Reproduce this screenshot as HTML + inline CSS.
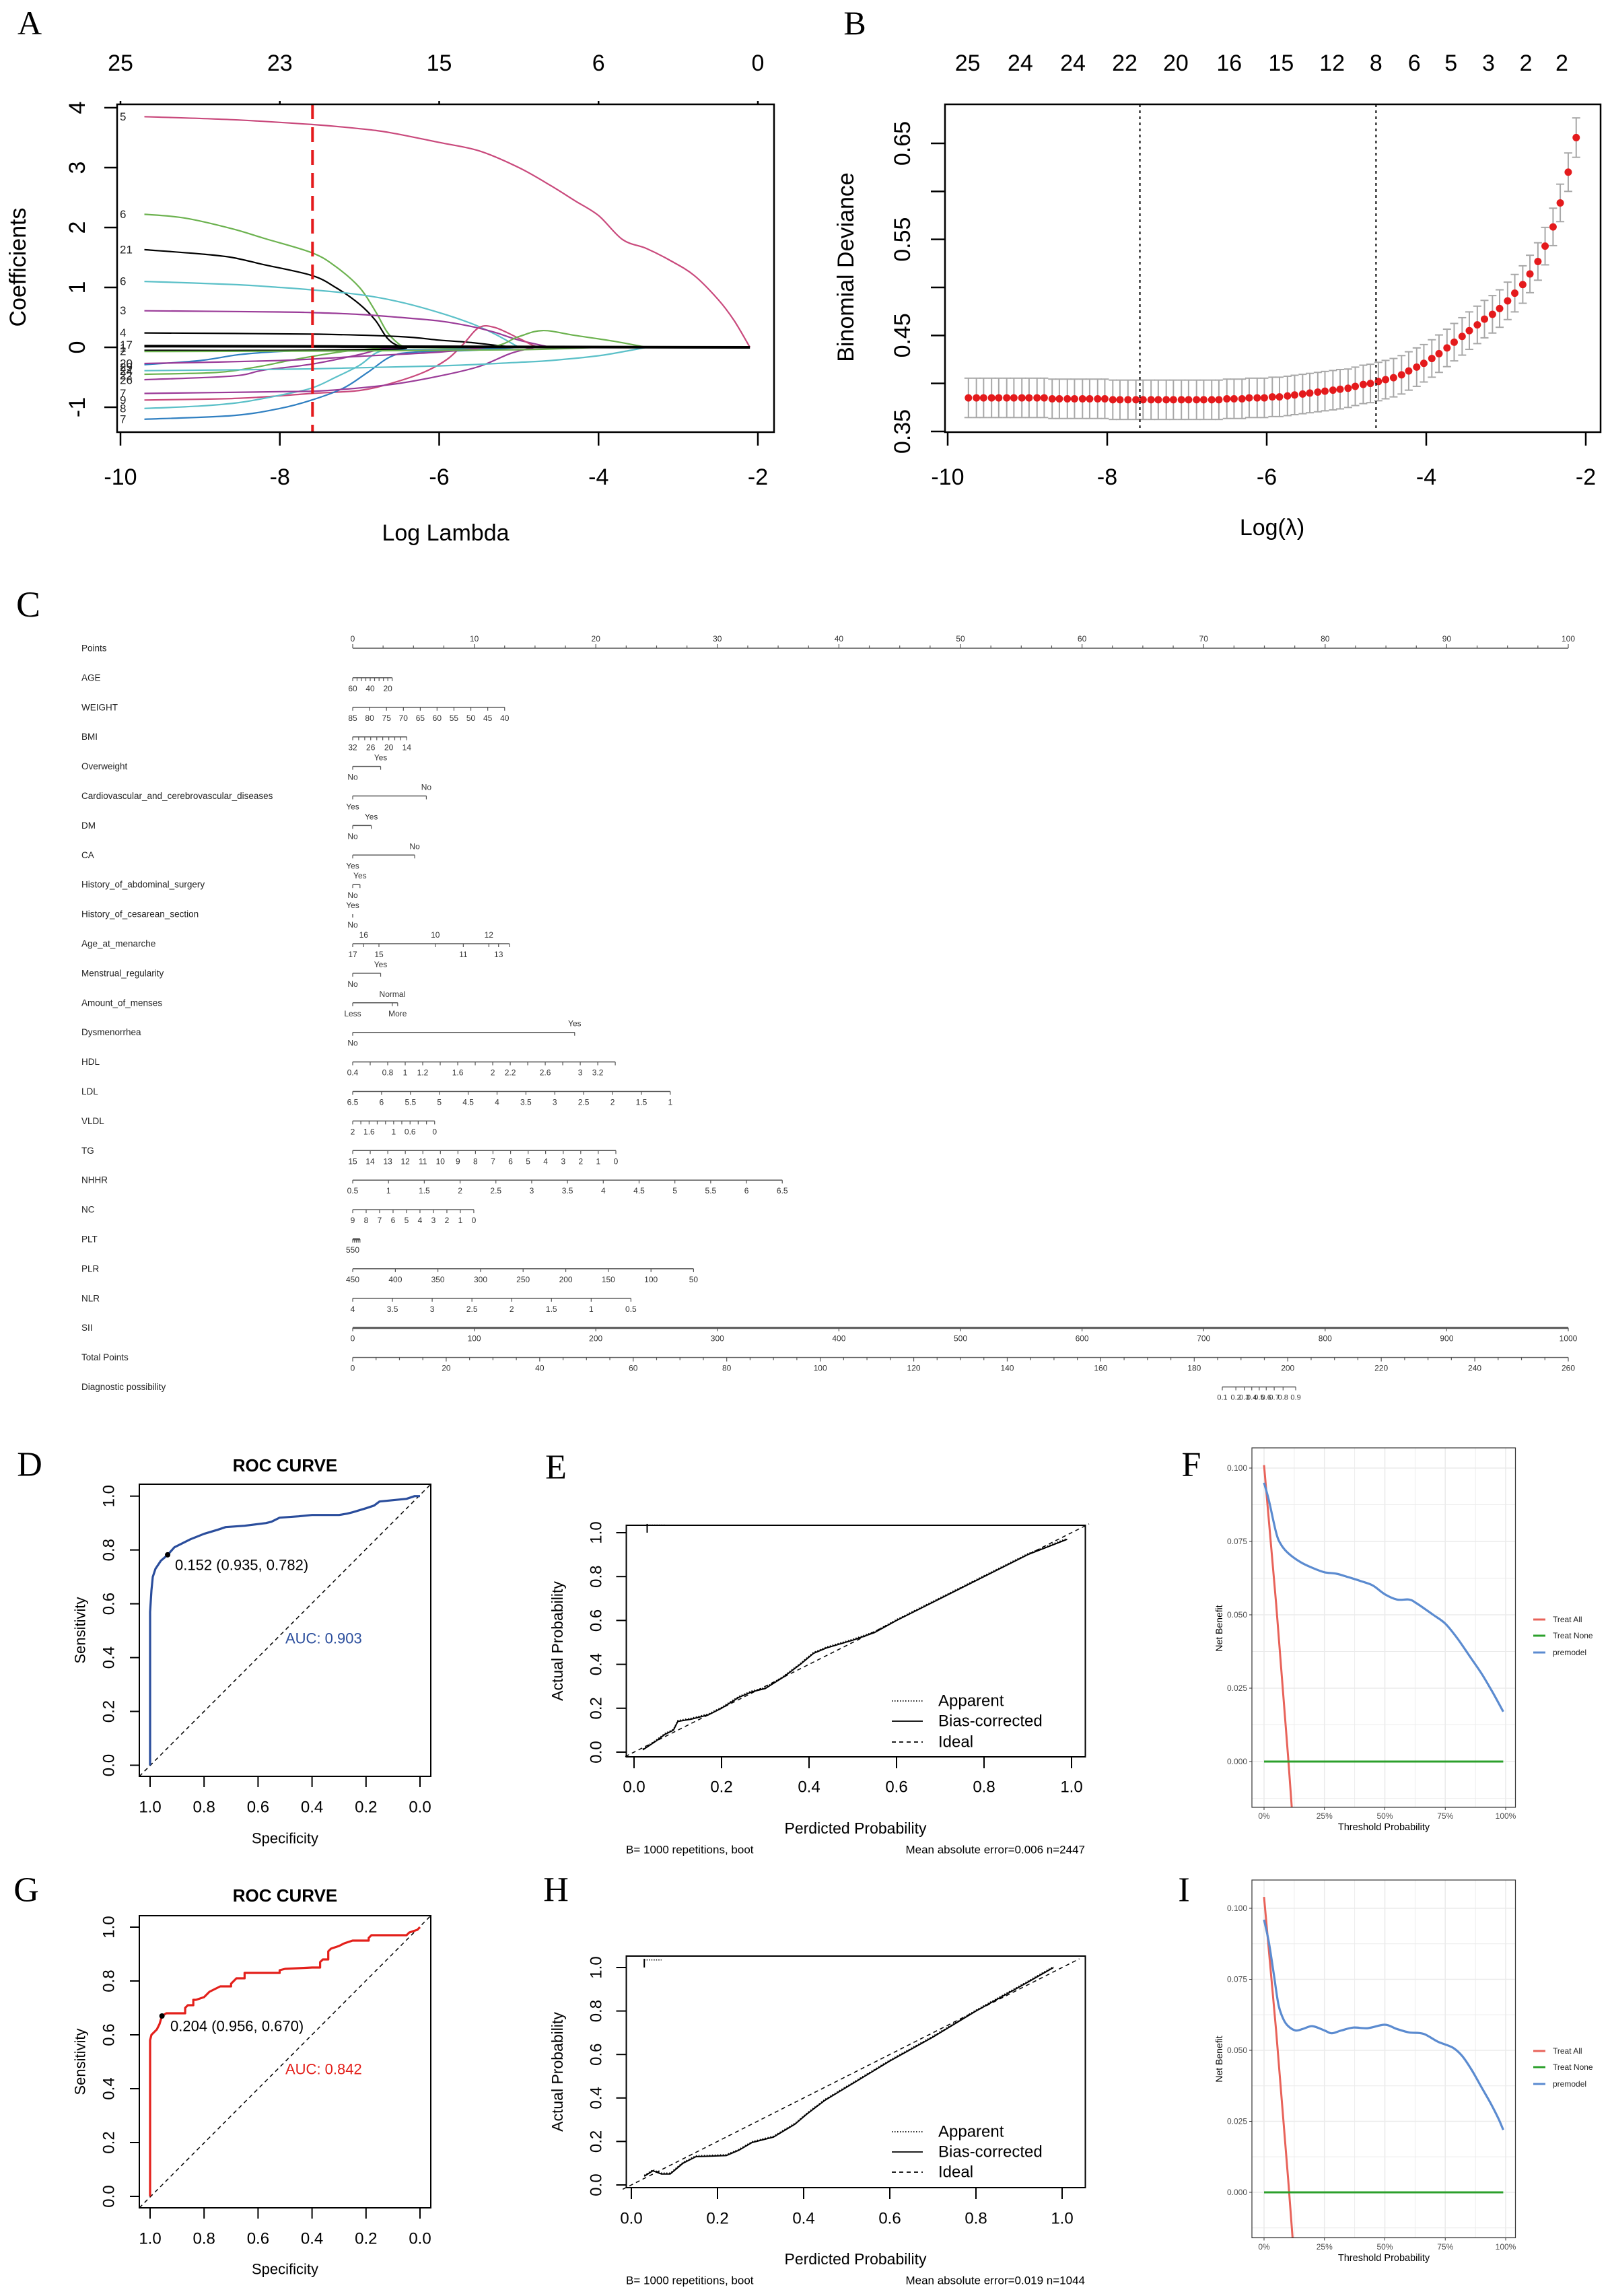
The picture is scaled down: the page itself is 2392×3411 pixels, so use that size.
<!DOCTYPE html>
<html><head><meta charset="utf-8"><title>Figure</title>
<style>html,body{margin:0;padding:0;background:#fff}svg{display:block}</style></head>
<body>
<svg id="fig" xmlns="http://www.w3.org/2000/svg" width="2392" height="3411" viewBox="0 0 2392 3411">
<rect x="0" y="0" width="2392" height="3411" fill="#fff"/>
<defs>
<clipPath id="clipF"><rect x="1860" y="2151" width="391.5" height="534"/></clipPath>
<clipPath id="clipI"><rect x="1860" y="2793" width="391.5" height="531.5"/></clipPath>
</defs>
</svg>
<script>
// ===== Panel A: LASSO coefficient paths (logLambda, coefficient) =====
const aTickX=[-10,-8,-6,-4,-2];
const aTopLabels=['25','23','15','6','0'];
const aTickY=[-1,0,1,2,3,4];
const aLambdaMin=-7.59;
const aPath1=[[-9.7,3.85],[-8.6,3.8],[-7.6,3.72],[-7,3.65],[-6.6,3.58],[-6,3.42],[-5.5,3.28],[-5,3.0],[-4.6,2.7],[-4.3,2.45],[-4,2.2],[-3.7,1.8],[-3.4,1.65],[-3.1,1.45],[-2.8,1.2],[-2.5,0.8],[-2.3,0.45],[-2.1,0]];
const aPath2=[[-9.7,2.22],[-9.2,2.16],[-8.6,1.98],[-8.2,1.82],[-7.6,1.58],[-7.3,1.35],[-7.0,1.0],[-6.8,0.6],[-6.65,0.25],[-6.5,0.05],[-6.4,0]];
const aPath3=[[-9.7,1.63],[-9.0,1.56],[-8.6,1.5],[-8.2,1.38],[-7.6,1.2],[-7.3,1.0],[-7.0,0.72],[-6.8,0.45],[-6.65,0.15],[-6.5,0.02],[-6.3,0]];
const aPath4=[[-9.7,1.1],[-8.6,1.05],[-8,1.0],[-7.6,0.96],[-7,0.88],[-6.5,0.76],[-6,0.58],[-5.6,0.4],[-5.3,0.22],[-5.0,0]];
const aPath5=[[-9.7,0.61],[-8,0.59],[-7.6,0.58],[-7,0.55],[-6.5,0.5],[-6,0.44],[-5.6,0.35],[-5.3,0.25],[-5,0.12],[-4.6,0]];
const aPath6=[[-9.7,0.24],[-7.6,0.22],[-6.5,0.18],[-6,0.12],[-5.6,0.08],[-5.2,0.02],[-5.0,0]];
const aPath7=[[-9.7,-0.88],[-8.5,-0.85],[-7.6,-0.77],[-7,-0.72],[-6.6,-0.6],[-6.2,-0.42],[-5.9,-0.2],[-5.7,0.05],[-5.5,0.33],[-5.3,0.33],[-5.0,0.15],[-4.8,0.02],[-4.7,0]];
const aPath8=[[-9.7,-0.45],[-8.8,-0.42],[-8.3,-0.33],[-7.8,-0.2],[-7.2,-0.07],[-6.8,-0.02],[-6.5,0],[-5.4,0],[-5.0,0.18],[-4.7,0.28],[-4.3,0.2],[-3.8,0.1],[-3.4,0]];
const aPath9=[[-9.7,-1.02],[-9,-0.98],[-8.5,-0.92],[-8,-0.8],[-7.6,-0.68],[-7.3,-0.5],[-7,-0.3],[-6.8,-0.1],[-6.6,-0.02],[-6.4,0]];
const aPath10=[[-9.7,-1.2],[-8.6,-1.14],[-8,-1.02],[-7.6,-0.88],[-7.2,-0.68],[-6.9,-0.42],[-6.6,-0.15],[-6.3,-0.08],[-5.6,-0.05],[-5,0]];
const aPath11=[[-9.7,-0.77],[-8,-0.74],[-7.4,-0.72],[-6.6,-0.62],[-6,-0.48],[-5.5,-0.32],[-5.1,-0.1],[-4.8,0]];
const aPath12=[[-9.7,-0.54],[-8.6,-0.48],[-8.2,-0.38],[-7.6,-0.28],[-7,-0.12],[-6.7,-0.02],[-6.4,0]];
const aPath13=[[-9.7,-0.39],[-7.6,-0.36],[-6,-0.31],[-5,-0.25],[-4.6,-0.22],[-4,-0.14],[-3.6,-0.05],[-3.4,0]];
const aPath14=[[-9.7,-0.29],[-9,-0.22],[-8.5,-0.12],[-8,-0.07],[-7.5,-0.05],[-6,-0.04],[-5,0]];
const aPath15=[[-9.7,-0.27],[-8,-0.22],[-7,-0.15],[-6,-0.08],[-5.4,0]];
const aPath16=[[-9.7,-0.05],[-8,-0.05],[-6.6,-0.03],[-6.4,0]];
const aPath17=[[-9.7,-0.07],[-7,-0.06],[-5,-0.04],[-4,0]];
const aPath18=[[-9.7,0.02],[-6,0.01],[-2.1,0]];
const aPaths=[aPath1,aPath2,aPath3,aPath4,aPath5,aPath6,aPath7,aPath8,aPath9,aPath10,aPath11,aPath12,aPath13,aPath14,aPath15,aPath16,aPath17,aPath18];
const aColors=['#c9497c','#6cb24f','#000000','#5bc0c8','#9a3b98','#000000','#c9497c','#6cb24f','#5bc0c8','#2f7fc1','#9a3b98','#9a3b98','#5bc0c8','#2f7fc1','#9a3b98','#000000','#6cb24f','#000000'];
const aLabelText=['5','6','21','6','3','4','17','1','2','20','29','24','22','26','7','9','8','7'];
const aLabelVal=[3.85,2.22,1.63,1.1,0.61,0.24,0.04,-0.01,-0.07,-0.27,-0.33,-0.4,-0.47,-0.55,-0.77,-0.88,-1.02,-1.2];

// ===== Panel B: cross-validation binomial deviance =====
const bLogLambda=[-9.74,-9.64,-9.55,-9.45,-9.36,-9.26,-9.17,-9.07,-8.98,-8.88,
-8.79,-8.69,-8.60,-8.50,-8.41,-8.31,-8.22,-8.12,-8.03,-7.93,
-7.84,-7.74,-7.64,-7.55,-7.45,-7.36,-7.26,-7.17,-7.07,-6.98,
-6.88,-6.79,-6.69,-6.60,-6.50,-6.41,-6.31,-6.22,-6.12,-6.03,
-5.93,-5.84,-5.74,-5.65,-5.55,-5.46,-5.36,-5.27,-5.17,-5.08,
-4.98,-4.89,-4.79,-4.70,-4.60,-4.51,-4.41,-4.31,-4.22,-4.12,
-4.03,-3.93,-3.84,-3.74,-3.65,-3.55,-3.46,-3.36,-3.27,-3.17,
-3.08,-2.98,-2.89,-2.79,-2.70,-2.60,-2.51,-2.41,-2.32,-2.22,-2.12];
const bDeviance=[0.385,0.385,0.385,0.385,0.385,0.385,0.385,0.385,0.385,0.385,
0.385,0.384,0.384,0.384,0.384,0.384,0.384,0.384,0.384,0.383,
0.383,0.383,0.383,0.383,0.383,0.383,0.383,0.383,0.383,0.383,
0.383,0.383,0.383,0.383,0.384,0.384,0.384,0.385,0.385,0.385,
0.386,0.386,0.387,0.388,0.389,0.390,0.391,0.392,0.393,0.394,
0.395,0.397,0.399,0.400,0.402,0.404,0.406,0.409,0.413,0.417,
0.421,0.426,0.431,0.437,0.443,0.449,0.455,0.461,0.467,0.472,
0.478,0.486,0.494,0.503,0.514,0.527,0.543,0.563,0.588,0.620,0.656];
const bSE=[0.0205,0.0205,0.0205,0.0205,0.0205,0.0205,0.0205,0.0205,0.0205,0.0205,
0.0205,0.0205,0.0205,0.0205,0.0205,0.0205,0.0205,0.0205,0.0205,0.0205,
0.0205,0.0205,0.0205,0.0205,0.0205,0.0205,0.0205,0.0205,0.0205,0.0205,
0.0205,0.0205,0.0205,0.0205,0.0205,0.0205,0.0205,0.0205,0.0205,0.0205,
0.0205,0.0205,0.0205,0.0205,0.0205,0.0205,0.0205,0.0205,0.0205,0.0205,
0.0200,0.0200,0.0200,0.0200,0.0200,0.0200,0.0200,0.0200,0.0200,0.0200,
0.0195,0.0195,0.0195,0.0195,0.0195,0.0195,0.0195,0.0195,0.0195,0.0195,
0.0195,0.0195,0.0195,0.0195,0.0195,0.0195,0.0195,0.0195,0.0195,0.0200,0.0205];
const bTickX=[-10,-8,-6,-4,-2];
const bTickY=[0.35,0.40,0.45,0.50,0.55,0.60,0.65];
const bTickYLabels=['0.35','','0.45','','0.55','','0.65'];
const bTopLabels=['25','24','24','22','20','16','15','12','8','6','5','3','2','2'];
const bTopAt=[-9.75,-9.09,-8.43,-7.78,-7.14,-6.47,-5.82,-5.18,-4.63,-4.15,-3.69,-3.22,-2.75,-2.30];
const bLambdaMin=-7.59, bLambda1se=-4.63;

// ===== Panel C: nomogram =====
const cRowNames=['Points','AGE','WEIGHT','BMI','Overweight','Cardiovascular_and_cerebrovascular_diseases','DM','CA','History_of_abdominal_surgery','History_of_cesarean_section','Age_at_menarche','Menstrual_regularity','Amount_of_menses','Dysmenorrhea','HDL','LDL','VLDL','TG','NHHR','NC','PLT','PLR','NLR','SII','Total Points','Diagnostic possibility'];
const cAGE=[[60,0,'b'],[55,.36,''],[50,.72,''],[45,1.08,''],[40,1.44,'b'],[35,1.8,''],[30,2.17,''],[25,2.53,''],[20,2.89,'b'],[15,3.25,'']];
const cWEIGHT=[[85,0,'b'],[80,1.39,'b'],[75,2.78,'b'],[70,4.17,'b'],[65,5.56,'b'],[60,6.94,'b'],[55,8.33,'b'],[50,9.72,'b'],[45,11.11,'b'],[40,12.5,'b']];
const cBMI=[[32,0,'b'],[30,.49,''],[28,.99,''],[26,1.48,'b'],[24,1.98,''],[22,2.47,''],[20,2.97,'b'],[18,3.46,''],[16,3.95,''],[14,4.45,'b']];
const cOverweight=[['No',0,'b'],['Yes',2.3,'a']];
const cCardio=[['Yes',0,'b'],['No',6.06,'a']];
const cDM=[['No',0,'b'],['Yes',1.53,'a']];
const cCA=[['Yes',0,'b'],['No',5.1,'a']];
const cAbd=[['No',0,'b'],['Yes',0.6,'a']];
const cCes=[['No',0,'b'],['Yes',0,'a']];
const cMenarche=[[17,0,'b'],[16,0.9,'a'],[15,2.16,'b'],[10,6.8,'a'],[11,9.1,'b'],[12,11.2,'a'],[13,12.0,'b'],[14,12.9,'']];
const cMensReg=[['No',0,'b'],['Yes',2.3,'a']];
const cAmount=[['Less',0,'b'],['Normal',3.26,'a'],['More',3.7,'b']];
const cDysmen=[['No',0,'b'],['Yes',18.26,'a']];
const cHDL=[[0.4,0,'b'],[0.6,1.44,''],[0.8,2.88,'b'],[1,4.32,'b'],[1.2,5.76,'b'],[1.4,7.2,''],[1.6,8.64,'b'],[1.8,10.08,''],[2,11.52,'b'],[2.2,12.96,'b'],[2.4,14.4,''],[2.6,15.84,'b'],[2.8,17.28,''],[3,18.72,'b'],[3.2,20.16,'b'],[3.4,21.6,'']];
const cLDL=[[6.5,0,'b'],[6,2.375,'b'],[5.5,4.75,'b'],[5,7.125,'b'],[4.5,9.5,'b'],[4,11.875,'b'],[3.5,14.25,'b'],[3,16.625,'b'],[2.5,19,'b'],[2,21.375,'b'],[1.5,23.75,'b'],[1,26.125,'b']];
const cVLDL=[[2,0,'b'],[1.8,.67,''],[1.6,1.35,'b'],[1.4,2.02,''],[1.2,2.7,''],[1,3.37,'b'],[0.8,4.04,''],[0.6,4.72,'b'],[0.4,5.39,''],[0.2,6.07,''],[0,6.74,'b']];
const cTG=[[15,0,'b'],[14,1.443,'b'],[13,2.886,'b'],[12,4.329,'b'],[11,5.772,'b'],[10,7.215,'b'],[9,8.658,'b'],[8,10.1,'b'],[7,11.54,'b'],[6,12.99,'b'],[5,14.43,'b'],[4,15.87,'b'],[3,17.32,'b'],[2,18.76,'b'],[1,20.2,'b'],[0,21.65,'b']];
const cNHHR=[[0.5,0,'b'],[1,2.945,'b'],[1.5,5.89,'b'],[2,8.835,'b'],[2.5,11.78,'b'],[3,14.725,'b'],[3.5,17.67,'b'],[4,20.615,'b'],[4.5,23.56,'b'],[5,26.505,'b'],[5.5,29.45,'b'],[6,32.395,'b'],[6.5,35.34,'b']];
const cNC=[[9,0,'b'],[8,1.107,'b'],[7,2.214,'b'],[6,3.321,'b'],[5,4.428,'b'],[4,5.535,'b'],[3,6.642,'b'],[2,7.749,'b'],[1,8.856,'b'],[0,9.963,'b']];
const cPLT=[[550,0,'b'],[500,0.15,''],[450,0.3,''],[400,0.45,''],[350,0.6,'']];
const cPLR=[[450,0,'b'],[400,3.51,'b'],[350,7.01,'b'],[300,10.52,'b'],[250,14.02,'b'],[200,17.53,'b'],[150,21.03,'b'],[100,24.54,'b'],[50,28.04,'b']];
const cNLR=[[4,0,'b'],[3.5,3.27,'b'],[3,6.54,'b'],[2.5,9.81,'b'],[2,13.08,'b'],[1.5,16.35,'b'],[1,19.62,'b'],[0.5,22.89,'b']];
const cSII=[[0,0,'b'],[100,10,'b'],[200,20,'b'],[300,30,'b'],[400,40,'b'],[500,50,'b'],[600,60,'b'],[700,70,'b'],[800,80,'b'],[900,90,'b'],[1000,100,'b']];
const cVarRows=[cAGE,cWEIGHT,cBMI,cOverweight,cCardio,cDM,cCA,cAbd,cCes,cMenarche,cMensReg,cAmount,cDysmen,cHDL,cLDL,cVLDL,cTG,cNHHR,cNC,cPLT,cPLR,cNLR,cSII];
const cDiagLabels=['0.1','0.2','0.3','0.4','0.5','0.6','0.7','0.8','0.9'];
const cDiagTotal=[186.0,188.9,190.7,192.3,193.9,195.4,197.1,199.0,201.7];

// ===== ROC curves (specificity, sensitivity) =====
const dSpec=[1,1,0.995,0.99,0.98,0.96,0.935,0.91,0.88,0.85,0.8,0.75,0.72,0.65,0.57,0.55,0.52,0.45,0.4,0.3,0.27,0.25,0.2,0.17,0.15,0.1,0.05,0.02,0];
const dSens=[0,0.57,0.65,0.70,0.73,0.76,0.782,0.81,0.825,0.84,0.86,0.875,0.885,0.89,0.90,0.905,0.92,0.925,0.93,0.93,0.935,0.94,0.955,0.965,0.98,0.985,0.99,1.0,1.0];
const gSpec=[1,1,0.995,0.985,0.975,0.965,0.956,0.94,0.87,0.87,0.86,0.84,0.84,0.83,0.8,0.78,0.76,0.74,0.7,0.7,0.68,0.65,0.65,0.52,0.52,0.5,0.4,0.37,0.37,0.36,0.34,0.34,0.33,0.3,0.28,0.25,0.19,0.19,0.18,0.05,0.04,0.01,0];
const gSens=[0,0.58,0.60,0.61,0.62,0.64,0.67,0.68,0.68,0.70,0.71,0.71,0.73,0.73,0.74,0.76,0.77,0.78,0.78,0.79,0.81,0.81,0.83,0.83,0.84,0.845,0.85,0.85,0.87,0.88,0.88,0.91,0.92,0.93,0.94,0.95,0.95,0.96,0.97,0.97,0.98,0.99,1.0];

// ===== Calibration curves (predicted, actual) =====
const ePred=[0.02,0.05,0.07,0.09,0.1,0.13,0.17,0.2,0.24,0.27,0.3,0.34,0.38,0.41,0.44,0.5,0.55,0.6,0.7,0.8,0.9,0.99];
const eActual=[0.01,0.05,0.08,0.1,0.14,0.15,0.17,0.2,0.25,0.275,0.29,0.34,0.4,0.45,0.475,0.51,0.545,0.6,0.7,0.8,0.9,0.97];
const hPred=[0.03,0.05,0.07,0.09,0.12,0.15,0.22,0.25,0.28,0.33,0.38,0.41,0.45,0.5,0.55,0.6,0.7,0.8,0.9,0.98];
const hActual=[0.04,0.065,0.05,0.05,0.1,0.13,0.135,0.16,0.195,0.22,0.28,0.33,0.39,0.45,0.51,0.57,0.68,0.8,0.91,1.0];
const calTicks=[0,0.2,0.4,0.6,0.8,1.0];

// ===== Decision curves (threshold, net benefit) =====
const fThresh=[0,0.02,0.05,0.07,0.1,0.15,0.2,0.25,0.3,0.35,0.4,0.45,0.5,0.55,0.6,0.63,0.7,0.75,0.8,0.85,0.9,0.95,0.99];
const fModel=[0.095,0.089,0.078,0.074,0.071,0.068,0.066,0.0645,0.064,0.0628,0.0615,0.060,0.057,0.0552,0.0552,0.054,0.050,0.047,0.042,0.036,0.030,0.023,0.017];
const fAllThresh=[0,0.05,0.1,0.12];
const fAll=[0.101,0.0537,0.0012,-0.0216];
const iThresh=[0,0.02,0.04,0.06,0.08,0.1,0.13,0.16,0.2,0.25,0.28,0.32,0.37,0.43,0.5,0.55,0.6,0.66,0.72,0.78,0.82,0.86,0.9,0.94,0.97,0.99];
const iModel=[0.096,0.088,0.077,0.066,0.061,0.0585,0.057,0.0575,0.0585,0.057,0.056,0.057,0.058,0.0578,0.059,0.0575,0.0563,0.0558,0.053,0.051,0.048,0.043,0.037,0.031,0.026,0.022];
const iAllThresh=[0,0.05,0.1,0.12];
const iAll=[0.104,0.0568,0.0044,-0.0182];
const dcaYTicks=[0,0.025,0.05,0.075,0.1];
const dcaYLabels=['0.000','0.025','0.050','0.075','0.100'];
const dcaXTicks=[0,0.25,0.5,0.75,1];
const dcaXLabels=['0%','25%','50%','75%','100%'];

// ===== helpers =====
const NS='http://www.w3.org/2000/svg';
const svg=document.getElementById('fig');
const SANS='"Liberation Sans", Arial, sans-serif';
const SERIF='"Liberation Serif", serif';
function add(parent,tag,attrs,name){
  const el=document.createElementNS(NS,tag);
  for(const k in attrs){el.setAttribute(k,attrs[k]);}
  
  
  parent.appendChild(el);
  return el;
}
function grp(name,parent){return add(parent||svg,'g',{},name);}
function txt(p,x,y,s,size,name,o){
  o=o||{};
  const a={x:x,y:y,'font-size':size,'font-family':o.serif?SERIF:SANS,'text-anchor':o.anchor||'middle','dominant-baseline':'central',fill:o.fill||'#000'};
  if(o.bold)a['font-weight']='bold';
  if(o.rot)a.transform='rotate(-90 '+x+' '+y+')';
  const el=add(p,'text',a,name);
  el.textContent=s;
  return el;
}
function ln(p,x1,y1,x2,y2,stroke,w,name,dash){
  const a={x1:x1,y1:y1,x2:x2,y2:y2,stroke:stroke,'stroke-width':w};
  if(dash)a['stroke-dasharray']=dash;
  return add(p,'line',a,name);
}
function pl(p,pts,stroke,w,name,dash,extra){
  const a={points:pts.map(q=>q[0].toFixed(1)+','+q[1].toFixed(1)).join(' '),fill:'none',stroke:stroke,'stroke-width':w,'stroke-linejoin':'round'};
  if(dash)a['stroke-dasharray']=dash;
  if(extra)for(const k in extra)a[k]=extra[k];
  return add(p,'polyline',a,name);
}
function smooth(p,pts,stroke,w,name,extra){
  let d='M'+pts[0][0].toFixed(1)+','+pts[0][1].toFixed(1);
  for(let i=0;i<pts.length-1;i++){
    const p0=pts[Math.max(0,i-1)],p1=pts[i],p2=pts[i+1],p3=pts[Math.min(pts.length-1,i+2)];
    const c1x=p1[0]+(p2[0]-p0[0])/6,c1y=p1[1]+(p2[1]-p0[1])/6;
    const c2x=p2[0]-(p3[0]-p1[0])/6,c2y=p2[1]-(p3[1]-p1[1])/6;
    d+=' C'+c1x.toFixed(1)+','+c1y.toFixed(1)+' '+c2x.toFixed(1)+','+c2y.toFixed(1)+' '+p2[0].toFixed(1)+','+p2[1].toFixed(1);
  }
  const a={d:d,fill:'none',stroke:stroke,'stroke-width':w,'stroke-linejoin':'round'};
  if(extra)for(const k in extra)a[k]=extra[k];
  return add(p,'path',a,name);
}
function rect(p,x,y,w,h,stroke,sw,name){return add(p,'rect',{x:x,y:y,width:w,height:h,fill:'none',stroke:stroke,'stroke-width':sw},name);}

// ===== Panel A =====
(function(){
  const g=grp('panel-a-coefficient-paths');
  const xA=v=>179+(v+10)*118.375, yA=c=>516-c*89;
  txt(g,44,34,'A',50,'panel-label-a',{serif:true});
  aPaths.forEach((path,i)=>{
    smooth(g,path.map(q=>[xA(q[0]),yA(q[1])]),aColors[i],i===17?4:2.2,'coefficient-path-'+(i+1));
  });
  ln(g,xA(aLambdaMin),155,xA(aLambdaMin),642,'#e41a1c',4,'lambda-min-line','22,12');
  rect(g,174,155,976,487,'#000',2.5,'plot-box-a');
  aTickX.forEach((v,i)=>{
    ln(g,xA(v),642,xA(v),662,'#000',2.5,'x-tick-a');
    txt(g,xA(v),709,String(v),34,'x-tick-label-a');
    ln(g,xA(v),155,xA(v),150,'#000',2.5,'top-tick-a');
    txt(g,xA(v),94,aTopLabels[i],34,'top-tick-label-a');
  });
  aTickY.forEach(v=>{
    ln(g,174,yA(v),155,yA(v),'#000',2.5,'y-tick-a');
    txt(g,115,yA(v),String(v),34,'y-tick-label-a',{rot:true});
  });
  aLabelText.forEach((s,i)=>{txt(g,178,yA(aLabelVal[i]),s,17,'path-label',{anchor:'start',fill:'#222'});});
  txt(g,27,397,'Coefficients',34,'y-axis-title-a',{rot:true});
  txt(g,662,792,'Log Lambda',34,'x-axis-title-a');
})();

// ===== Panel B =====
(function(){
  const g=grp('panel-b-cv-deviance');
  const xB=v=>1408+(v+10)*118.5, yB=d=>641-(d-0.35)*1426.7;
  txt(g,1270,34,'B',50,'panel-label-b',{serif:true});
  bLogLambda.forEach((v,i)=>{
    const x=xB(v),y1=yB(bDeviance[i]+bSE[i]),y2=yB(bDeviance[i]-bSE[i]);
    ln(g,x,y1,x,y2,'#a8a8a8',2,'error-bar');
    ln(g,x-6,y1,x+6,y1,'#a8a8a8',2,'error-cap-upper');
    ln(g,x-6,y2,x+6,y2,'#a8a8a8',2,'error-cap-lower');
  });
  bLogLambda.forEach((v,i)=>{
    add(g,'circle',{cx:xB(v),cy:yB(bDeviance[i]),r:5.5,fill:'#e41a1c'},'deviance-point');
  });
  ln(g,xB(bLambdaMin),155,xB(bLambdaMin),642,'#000',2,'lambda-min-line','4,5');
  ln(g,xB(bLambda1se),155,xB(bLambda1se),642,'#000',2,'lambda-1se-line','4,5');
  rect(g,1404,155,974,487,'#000',2.5,'plot-box-b');
  bTickX.forEach(v=>{
    ln(g,xB(v),642,xB(v),662,'#000',2.5,'x-tick-b');
    txt(g,xB(v),709,String(v),34,'x-tick-label-b');
  });
  bTickY.forEach((v,i)=>{
    ln(g,1404,yB(v),1383,yB(v),'#000',2.5,'y-tick-b');
    if(bTickYLabels[i])txt(g,1341,yB(v),bTickYLabels[i],34,'y-tick-label-b',{rot:true});
  });
  bTopLabels.forEach((s,i)=>{txt(g,xB(bTopAt[i]),94,s,34,'top-tick-label-b');});
  txt(g,1257,397,'Binomial Deviance',34,'y-axis-title-b',{rot:true});
  txt(g,1890,784,'Log(λ)',34,'x-axis-title-b');
})();

// ===== Panel C =====
(function(){
  const g=grp('panel-c-nomogram');
  const xC=p=>524+p*18.06, xT=t=>524+t/260*1806;
  const rowY=i=>963+i*43.9;
  txt(g,42,898,'C',54,'panel-label-c',{serif:true});
  cRowNames.forEach((s,i)=>{txt(g,121,rowY(i),s,13.5,'row-label',{anchor:'start',fill:'#222'});});
  // Points
  const y0=rowY(0);
  ln(g,xC(0),y0,xC(100),y0,'#555',1.5,'points-axis');
  for(let k=0;k<=40;k++){
    const p=k*2.5, major=(k%4===0);
    ln(g,xC(p),y0,xC(p),y0-(major?6:4),'#555',1.2,'points-tick');
    if(major)txt(g,xC(p),y0-14,String(p),12,'points-tick-label',{fill:'#333'});
  }
  // Variable rows
  cVarRows.forEach((ticks,r)=>{
    const i=r+1, y=rowY(i);
    const ps=ticks.map(t=>t[1]);
    const lo=Math.min.apply(null,ps),hi=Math.max.apply(null,ps);
    const thick=(cRowNames[i]==='SII'||cRowNames[i]==='PLT')?3:1.5;
    ln(g,xC(lo),y,xC(hi),y,'#555',thick,'axis-'+cRowNames[i]);
    ticks.forEach(t=>{
      const x=xC(t[1]);
      ln(g,x,y,x,y+5,'#555',1.2,'tick-'+cRowNames[i]);
      if(t[2]==='b')txt(g,x,y+16,String(t[0]),12,'tick-label-'+cRowNames[i],{fill:'#333'});
      if(t[2]==='a')txt(g,x,y-13,String(t[0]),12,'tick-label-'+cRowNames[i],{fill:'#333'});
    });
  });
  // Total points
  const yt=rowY(24);
  ln(g,xT(0),yt,xT(260),yt,'#555',1.5,'total-points-axis');
  for(let t=0;t<=260;t+=5){
    const major=(t%20===0);
    ln(g,xT(t),yt,xT(t),yt+(major?6:4),'#555',1.2,'total-points-tick');
    if(major)txt(g,xT(t),yt+16,String(t),12,'total-points-tick-label',{fill:'#333'});
  }
  // Diagnostic possibility
  const yd=rowY(25);
  ln(g,xT(cDiagTotal[0]),yd,xT(cDiagTotal[cDiagTotal.length-1]),yd,'#555',1.5,'diagnostic-axis');
  cDiagTotal.forEach((t,k)=>{
    ln(g,xT(t),yd,xT(t),yd+5,'#555',1.2,'diagnostic-tick');
    txt(g,xT(t),yd+16,cDiagLabels[k],11,'diagnostic-tick-label',{fill:'#333'});
  });
})();

// ===== ROC panels =====
function roc(cfg){
  const g=grp(cfg.name);
  const [bx0,by0,bx1,by1]=cfg.box;
  const xs=s=>cfg.x0+(1-s)*(cfg.x1-cfg.x0), ys=v=>cfg.ys0-v*(cfg.ys0-cfg.ys1);
  txt(g,cfg.letter[0],cfg.letter[1],cfg.letterText,52,'panel-label',{serif:true});
  txt(g,(bx0+bx1)/2,cfg.titleY,'ROC CURVE',26,'chart-title',{bold:true});
  ln(g,bx0,by1,bx1,by0,'#000',1.5,'reference-diagonal','6,5');
  pl(g,cfg.spec.map((s,i)=>[xs(s),ys(cfg.sens[i])]),cfg.color,3.2,'roc-curve');
  add(g,'circle',{cx:xs(cfg.best[0]),cy:ys(cfg.best[1]),r:4,fill:'#000'},'best-threshold-point');
  txt(g,cfg.annot[0],cfg.annot[1],cfg.annotText,22,'threshold-annotation',{anchor:'start'});
  txt(g,cfg.auc[0],cfg.auc[1],cfg.aucText,22,'auc-label',{anchor:'start',fill:cfg.color});
  rect(g,bx0,by0,bx1-bx0,by1-by0,'#000',2,'plot-box');
  [1,0.8,0.6,0.4,0.2,0].forEach(s=>{
    ln(g,xs(s),by1,xs(s),by1+16,'#000',2,'x-tick');
    txt(g,xs(s),cfg.tickLabY,s.toFixed(1),24,'x-tick-label');
  });
  [0,0.2,0.4,0.6,0.8,1].forEach(v=>{
    ln(g,bx0,ys(v),bx0-14,ys(v),'#000',2,'y-tick');
    txt(g,162,ys(v),v.toFixed(1),24,'y-tick-label',{rot:true});
  });
  txt(g,119,(by0+by1)/2,'Sensitivity',22,'y-axis-title',{rot:true});
  txt(g,(bx0+bx1)/2,cfg.xTitleY,'Specificity',22,'x-axis-title');
}
roc({name:'panel-d-roc-training',box:[207,2205,640,2639],x0:223,x1:624,ys0:2622.5,ys1:2222.7,letter:[44,2176],letterText:'D',titleY:2177,tickLabY:2685,xTitleY:2731,annot:[260,2325],annotText:'0.152 (0.935, 0.782)',auc:[424,2434],aucText:'AUC: 0.903',color:'#2a4d9c',spec:dSpec,sens:dSens,best:[0.935,0.782]});
roc({name:'panel-g-roc-validation',box:[207,2846,640,3280],x0:223,x1:624,ys0:3263,ys1:2863,letter:[39,2808],letterText:'G',titleY:2816,tickLabY:3326,xTitleY:3371,annot:[253,3010],annotText:'0.204 (0.956, 0.670)',auc:[424,3074],aucText:'AUC: 0.842',color:'#e3201b',spec:gSpec,sens:gSens,best:[0.956,0.670]});

// ===== Calibration panels =====
function calib(cfg){
  const g=grp(cfg.name);
  const [bx0,by0,bx1,by1]=cfg.box;
  const xp=v=>cfg.x0+v*(cfg.x1-cfg.x0), yp=v=>cfg.y0-v*(cfg.y0-cfg.y1);
  txt(g,cfg.letter[0],cfg.letter[1],cfg.letterText,52,'panel-label',{serif:true});
  ln(g,xp(-0.02),yp(-0.02),xp(1.04),yp(1.04),'#000',1.5,'ideal-line','6,5');
  pl(g,cfg.pred.map((v,i)=>[xp(v),yp(cfg.act[i])]),'#000',1.5,'apparent-line','1.5,2.5',{transform:'translate(0,-1.5)'});
  pl(g,cfg.pred.map((v,i)=>[xp(v),yp(cfg.act[i])]),'#000',2,'bias-corrected-line');
  ln(g,xp(0.03),yp(1.0),xp(0.03),yp(1.04),'#000',2,'histogram-rug');
  ln(g,xp(0.03),yp(1.035),xp(0.07),yp(1.035),'#000',1.5,'histogram-rug-top','1.5,2');
  rect(g,bx0,by0,bx1-bx0,by1-by0,'#000',2,'plot-box');
  calTicks.forEach(v=>{
    ln(g,xp(v),by1,xp(v),by1+17,'#000',2,'x-tick');
    txt(g,xp(v),cfg.tickLabY,v.toFixed(1),24,'x-tick-label');
    ln(g,bx0,yp(v),bx0-15,yp(v),'#000',2,'y-tick');
    txt(g,886,yp(v),v.toFixed(1),24,'y-tick-label',{rot:true});
  });
  txt(g,828,(by0+by1)/2,'Actual Probability',23,'y-axis-title',{rot:true});
  txt(g,1271,cfg.xTitleY,'Perdicted Probability',23,'x-axis-title');
  const names=['Apparent','Bias-corrected','Ideal'], dashes=['1.5,2.5',null,'6,5'];
  names.forEach((s,k)=>{
    ln(g,1325,cfg.leg[k],1371,cfg.leg[k],'#000',1.8,'legend-line-'+s.toLowerCase(),dashes[k]);
    txt(g,1394,cfg.leg[k],s,24,'legend-label-'+s.toLowerCase(),{anchor:'start'});
  });
  txt(g,930,cfg.footY,'B= 1000 repetitions, boot',17,'footer-left',{anchor:'start'});
  txt(g,1612,cfg.footY,cfg.footRight,17,'footer-right',{anchor:'end'});
}
calib({name:'panel-e-calibration-training',box:[930.5,2266,1612.5,2610],x0:942,x1:1592,y0:2603,y1:2277,letter:[826,2180],letterText:'E',tickLabY:2655,xTitleY:2716,leg:[2527,2557,2588],footY:2748,footRight:'Mean absolute error=0.006 n=2447',pred:ePred,act:eActual});
calib({name:'panel-h-calibration-validation',box:[930.5,2906,1612.5,3250],x0:938,x1:1578,y0:3246,y1:2923,letter:[826,2808],letterText:'H',tickLabY:3296,xTitleY:3356,leg:[3167,3197,3227],footY:3388,footRight:'Mean absolute error=0.019 n=1044',pred:hPred,act:hActual});

// ===== Decision curve panels =====
function dca(cfg){
  const g=grp(cfg.name);
  const [bx0,by0,bx1,by1]=cfg.box;
  const xt=t=>1878+t*(2237-1878), yn=v=>cfg.yZero-v*cfg.unit;
  txt(g,cfg.letter[0],cfg.letter[1],cfg.letterText,52,'panel-label',{serif:true});
  for(let v=-0.0125;v<=0.11;v+=0.0125){
    const y=yn(v); if(y<by0||y>by1)continue;
    ln(g,bx0,y,bx1,y,'#ebebeb',Math.abs(Math.round(v*80)%2)===0?1.6:0.9,'grid-h');
  }
  for(let t=0;t<=1.0001;t+=0.125){
    ln(g,xt(t),by0,xt(t),by1,'#ebebeb',Math.round(t*8)%2===0?1.6:0.9,'grid-v');
  }
  const cp=cfg.clip;
  pl(g,cfg.allT.map((t,i)=>[xt(t),yn(cfg.all[i])]),'#e8635a',3,'treat-all-line',null,{'clip-path':'url(#'+cp+')'});
  ln(g,xt(0),yn(0),xt(0.99),yn(0),'#2ca02c',3,'treat-none-line');
  smooth(g,cfg.t.map((t,i)=>[xt(t),yn(cfg.m[i])]),'#5b8bd0',3.2,'premodel-line');
  rect(g,bx0,by0,bx1-bx0,by1-by0,'#333',1.2,'plot-box');
  dcaYTicks.forEach((v,k)=>{
    ln(g,bx0,yn(v),bx0-4,yn(v),'#333',1,'y-tick');
    txt(g,1853,yn(v),dcaYLabels[k],12,'y-tick-label',{anchor:'end',fill:'#4d4d4d'});
  });
  dcaXTicks.forEach((t,k)=>{
    ln(g,xt(t),by1,xt(t),by1+4,'#333',1,'x-tick');
    txt(g,xt(t),cfg.xLabY,dcaXLabels[k],12,'x-tick-label',{fill:'#4d4d4d'});
  });
  txt(g,1811,cfg.nbY,'Net Benefit',14,'y-axis-title',{rot:true});
  txt(g,2056,cfg.titleY,'Threshold Probability',14.5,'x-axis-title');
  const names=['Treat All','Treat None','premodel'], cols=['#e8635a','#2ca02c','#5b8bd0'];
  names.forEach((s,k)=>{
    ln(g,2278,cfg.leg[k],2296,cfg.leg[k],cols[k],3,'legend-key-'+k);
    txt(g,2307,cfg.leg[k],s,12,'legend-label-'+k,{anchor:'start',fill:'#222'});
  });
}
dca({name:'panel-f-decision-curve-training',box:[1860,2151,2251.5,2685],yZero:2617,unit:4360,clip:'clipF',letter:[1770,2176],letterText:'F',xLabY:2698,titleY:2715,nbY:2419,leg:[2406,2430,2455],t:fThresh,m:fModel,allT:fAllThresh,all:fAll});
dca({name:'panel-i-decision-curve-validation',box:[1860,2793,2251.5,3324.5],yZero:3257,unit:4220,clip:'clipI',letter:[1759,2808],letterText:'I',xLabY:3338,titleY:3355,nbY:3059,leg:[3047,3071,3096],t:iThresh,m:iModel,allT:iAllThresh,all:iAll});
</script>
</body></html>
